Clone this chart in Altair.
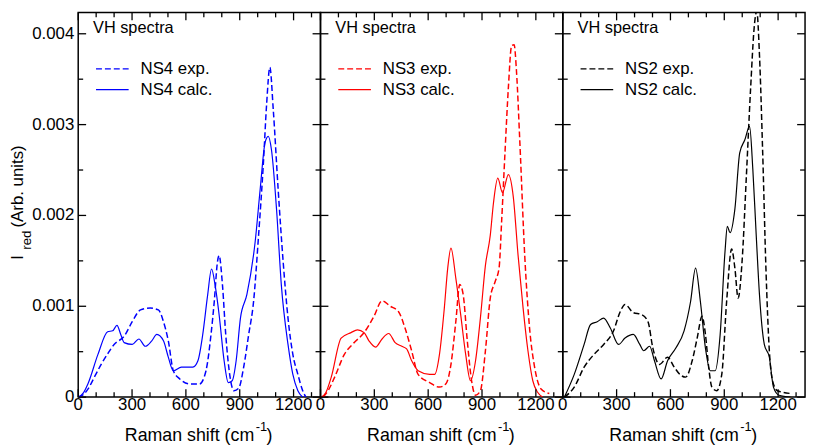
import altair as alt
import pandas as pd

FONT = "Liberation Sans"

# ---------------- data ----------------
X_MAJOR = [0, 300, 600, 900, 1200]
X_MINOR = [100, 200, 400, 500, 700, 800, 1000, 1100, 1300]
Y_MAJOR = [0, 0.001, 0.002, 0.003, 0.004]
Y_MINOR = [0.0005, 0.0015, 0.0025, 0.0035]

NS4_EXP_X = [0, 30, 55, 90, 128, 165, 200, 256, 301, 347, 402, 447, 475, 502, 530, 566, 621, 676, 712, 740, 758,
             776, 785, 804, 822, 844, 868, 895, 922, 950, 977, 1005, 1032, 1050, 1068, 1087, 1114, 1142, 1169,
             1196, 1224, 1251, 1269]
NS4_EXP_Y = [0, 0.00003, 0.00009, 0.00022, 0.00036, 0.00048, 0.00058, 0.00067, 0.00083, 0.00096, 0.00098,
             0.00096, 0.00083, 0.00062, 0.00029, 0.0002, 0.000145, 0.000145, 0.00029, 0.00069, 0.00105, 0.00149,
             0.00156, 0.00123, 0.00069, 0.00025, 0.00007, 0.0001, 0.00033, 0.00069, 0.00105, 0.00178, 0.00258,
             0.00323, 0.00363, 0.00316, 0.00229, 0.00149, 0.00087, 0.00047, 0.00025, 0.00007, 0]
NS4_CALC_X = [0, 30, 55, 110, 164, 192, 216, 237, 256, 301, 338, 374, 410, 438, 475, 502, 530, 575, 639, 667,
              694, 721, 743, 763, 785, 813, 836, 858, 880, 904, 940, 986, 1014, 1041, 1059, 1077, 1105, 1132,
              1169, 1196, 1224, 1251]
NS4_CALC_Y = [0, 0.00005, 0.00015, 0.00047, 0.00072, 0.00073, 0.00079, 0.00069, 0.0006, 0.00058, 0.00064,
              0.00056, 0.00062, 0.00069, 0.00062, 0.00044, 0.00029, 0.00033, 0.00033, 0.0004, 0.00069, 0.00112,
              0.00141, 0.00123, 0.00091, 0.0004, 0.00016, 0.00018, 0.0004, 0.00087, 0.00113, 0.00171, 0.00229,
              0.0028, 0.00287, 0.00272, 0.00207, 0.00123, 0.00058, 0.00025, 0.00007, 0]

NS3_EXP_X = [15, 45, 79, 133, 188, 243, 298, 343, 389, 435, 471, 508, 544, 608, 663, 700, 727, 754, 776, 795,
             818, 842, 864, 891, 919, 946, 973, 995, 1010, 1028, 1047, 1065, 1079, 1092, 1111, 1138, 1165, 1193,
             1229, 1275]
NS3_EXP_Y = [0, 0.00008, 0.00022, 0.00047, 0.0006, 0.00071, 0.00089, 0.00106, 0.001, 0.00094, 0.00076,
             0.00051, 0.00025, 0.00016, 0.00011, 0.00015, 0.00036, 0.00083, 0.00124, 0.00113, 0.00062, 0.00018,
             0.00002, 0.00007, 0.00051, 0.00109, 0.00127, 0.00142, 0.00196, 0.00269, 0.00341, 0.00387, 0.00388,
             0.00359, 0.0028, 0.00156, 0.00076, 0.00033, 0.00009, 0.00004]
NS3_CALC_X = [5, 30, 60, 115, 170, 206, 243, 270, 307, 343, 380, 416, 453, 480, 508, 544, 608, 636, 663, 690,
              709, 727, 754, 781, 809, 836, 864, 891, 919, 946, 964, 988, 1014, 1047, 1074, 1101, 1129, 1156,
              1183, 1211, 1238]
NS3_CALC_Y = [0, 0.00005, 0.00022, 0.00065, 0.00071, 0.00074, 0.00071, 0.00062, 0.00055, 0.00064, 0.0007,
              0.0006, 0.00056, 0.00053, 0.0004, 0.00029, 0.00025, 0.00025, 0.00047, 0.00098, 0.00142, 0.00164,
              0.00131, 0.00091, 0.00047, 0.00018, 0.0004, 0.00087, 0.00145, 0.00178, 0.00214, 0.00241, 0.00225,
              0.00245, 0.00221, 0.00156, 0.00098, 0.00051, 0.00018, 0.00005, 0]

NS2_EXP_X = [9, 64, 119, 174, 228, 283, 320, 347, 393, 438, 475, 502, 539, 584, 621, 658, 685, 721, 749, 776,
             795, 813, 831, 858, 886, 913, 941, 959, 977, 999, 1023, 1047, 1068, 1081, 1096, 1114, 1132, 1151,
             1169, 1196, 1269]
NS2_EXP_Y = [0, 0.00011, 0.00033, 0.00047, 0.00058, 0.00073, 0.00094, 0.00102, 0.00093, 0.00091, 0.00083,
             0.00054, 0.00036, 0.00044, 0.00033, 0.00024, 0.00022, 0.0004, 0.00065, 0.00089, 0.00069, 0.00033,
             0.00011, 0.00007, 0.00025, 0.00105, 0.00163, 0.00142, 0.00109, 0.00149, 0.00243, 0.00341, 0.0041,
             0.00425, 0.00377, 0.00269, 0.00142, 0.00051, 0.00018, 0.00007, 0.00004]
NS2_CALC_X = [9, 64, 119, 155, 192, 228, 265, 311, 347, 393, 429, 451, 484, 511, 548, 584, 630, 676, 712, 740,
              767, 795, 822, 849, 877, 904, 917, 932, 959, 986, 1014, 1041, 1059, 1078, 1096, 1123, 1151, 1174,
              1205, 1269]
NS2_CALC_Y = [0, 0.00025, 0.00058, 0.0008, 0.00083, 0.00087, 0.00076, 0.00058, 0.00065, 0.00069, 0.00058,
              0.00051, 0.00056, 0.0004, 0.0002, 0.0004, 0.00054, 0.00073, 0.00105, 0.00142, 0.00105, 0.00054,
              0.00029, 0.00029, 0.00069, 0.0016, 0.00188, 0.00181, 0.00207, 0.00269, 0.00283, 0.00298, 0.00251,
              0.00178, 0.00113, 0.00058, 0.00044, 0.00011, 0.00002, 0]

SAMPLES = ["NS4", "NS3", "NS2"]
COLORS = ["#0000ff", "#ff0000", "#000000"]
SERIES = {
    "NS4": (NS4_EXP_X, NS4_EXP_Y, NS4_CALC_X, NS4_CALC_Y),
    "NS3": (NS3_EXP_X, NS3_EXP_Y, NS3_CALC_X, NS3_CALC_Y),
    "NS2": (NS2_EXP_X, NS2_EXP_Y, NS2_CALC_X, NS2_CALC_Y),
}
PANEL_TEXT = "VH spectra"
X_TITLE_MAIN = "Raman shift (cm"
X_TITLE_SUP = "-1"
X_TITLE_END = ")"
Y_TITLE_MAIN = "I"
Y_TITLE_SUB = "red"
Y_TITLE_REST = "(Arb. units)"

# ---------------- layout ----------------
W, H = 245, 389
X_DOMAIN = [0, 1350]
Y_DOMAIN = [0, 0.004235]
FS = 17
DASH = [6, 3]


def xs():
    return alt.Scale(domain=X_DOMAIN, nice=False, zero=False)


def ys():
    return alt.Scale(domain=Y_DOMAIN, nice=False)


def text_layer(txt, x, y, size=FS, angle=0, baseline="alphabetic", align="left"):
    kw = dict(font=FONT, fontSize=size, align=align, baseline=baseline, color="black")
    if angle:
        kw["angle"] = angle
    return alt.Chart(pd.DataFrame({"t": [txt]})).mark_text(**kw).encode(
        text="t:N", x=alt.value(x), y=alt.value(y))


def x_ticks(values, length, top):
    return alt.Chart(pd.DataFrame({"v": values})).mark_rule(color="black", strokeWidth=1.3).encode(
        x=alt.X("v:Q", scale=xs(), axis=None),
        y=alt.value(0 if top else H - length), y2=alt.value(length if top else H))


def y_ticks(values, length, right):
    return alt.Chart(pd.DataFrame({"v": values})).mark_rule(color="black", strokeWidth=1.3).encode(
        y=alt.Y("v:Q", scale=ys(), axis=None),
        x=alt.value(W - length if right else 0), x2=alt.value(W if right else length))


def x_labels():
    return alt.Chart(pd.DataFrame({"xlab": X_MAJOR})).mark_text(
        font=FONT, fontSize=FS, align="center", baseline="alphabetic", color="black"
    ).encode(x=alt.X("xlab:Q", scale=xs(), axis=None), y=alt.value(H + 13),
             text=alt.Text("xlab:Q", format="d"))


def y_labels():
    return alt.Chart(pd.DataFrame({"ylab": Y_MAJOR})).mark_text(
        font=FONT, fontSize=FS, align="right", baseline="middle", color="black"
    ).encode(y=alt.Y("ylab:Q", scale=ys(), axis=None), x=alt.value(-4),
             text=alt.Text("ylab:Q", format=".3~f"))


def panel(i):
    name = SAMPLES[i]
    color = COLORS[i]
    ex, ey, cx, cy = SERIES[name]
    exp_df = pd.DataFrame({"shift": ex, "I": ey})
    calc_df = pd.DataFrame({"shift": cx, "I": cy})

    ticks = [x_ticks(X_MAJOR, 8, False), x_ticks(X_MINOR, 5, False),
             x_ticks(X_MAJOR, 8, True), x_ticks(X_MINOR, 5, True),
             y_ticks(Y_MAJOR, 8, False), y_ticks(Y_MINOR, 5, False),
             y_ticks(Y_MAJOR, 8, True), y_ticks(Y_MINOR, 5, True)]

    exp_line = alt.Chart(exp_df).mark_line(
        color=color, strokeDash=DASH, strokeWidth=1.5, clip=True, interpolate="monotone"
    ).encode(x=alt.X("shift:Q", scale=xs(), axis=None),
             y=alt.Y("I:Q", scale=ys(), axis=None))
    calc_line = alt.Chart(calc_df).mark_line(
        color=color, strokeWidth=1.2, clip=True, interpolate="monotone"
    ).encode(x=alt.X("shift:Q", scale=xs(), axis=None),
             y=alt.Y("I:Q", scale=ys(), axis=None))

    one = pd.DataFrame({"k": [0]})
    leg_exp = alt.Chart(one).mark_rule(color=color, strokeDash=DASH, strokeWidth=1.3).encode(
        x=alt.value(18), x2=alt.value(51), y=alt.value(57))
    leg_calc = alt.Chart(one).mark_rule(color=color, strokeWidth=1.3).encode(
        x=alt.value(18), x2=alt.value(51), y=alt.value(78))

    layers = [exp_line, calc_line] + ticks + [
        x_labels(),
        leg_exp, leg_calc,
        text_layer(PANEL_TEXT, 15, 21.3, size=16.5),
        text_layer(f"{name} exp.", 63, 57, baseline="middle"),
        text_layer(f"{name} calc.", 63, 78, baseline="middle"),
        text_layer(X_TITLE_MAIN, W / 2 + 55.5, 433.5, size=18, align="right"),
        text_layer(X_TITLE_SUP, W / 2 + 57, 423, size=13),
        text_layer(X_TITLE_END, W / 2 + 68, 433.5, size=18),
    ]
    if i == 0:
        layers += [y_labels(),
                   text_layer(Y_TITLE_MAIN, -56, 250, angle=270),
                   text_layer(Y_TITLE_SUB, -47.5, 240, size=13.5, angle=270),
                   text_layer(Y_TITLE_REST, -56, 217.5, angle=270)]
    return alt.layer(*layers).properties(width=W, height=H)


chart = alt.hconcat(*[panel(i) for i in range(3)], spacing=0, bounds="flush").properties(
    background="white", padding={"left": 0, "top": 0, "right": 2, "bottom": 0}
).configure_view(stroke="black", strokeWidth=1.5)

chart.save("out.html", embed_options={"renderer": "svg", "actions": False})
